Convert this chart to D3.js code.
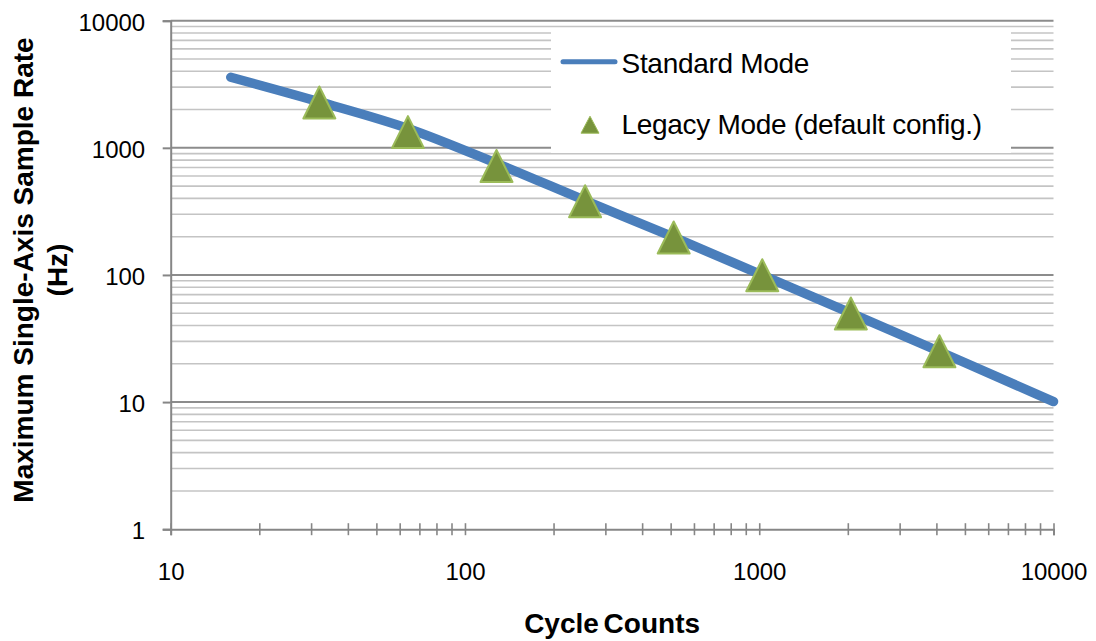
<!DOCTYPE html>
<html>
<head>
<meta charset="utf-8">
<script src="https://cdn.jsdelivr.net/npm/d3@7"></script>
<style>
  body { margin: 0; background: #fff; }
  svg text { font-family: "Liberation Sans", Arial, sans-serif; fill: #000; }
</style>
</head>
<body>
<svg id="chart" width="1096" height="641"></svg>
<script>

// values
var stdCycles = [16, 32, 64, 128, 256, 512, 1024, 2048, 4096, 10000]
var stdRate = [3590, 2300, 1420, 755, 385, 198, 99.5, 50, 25, 10.1]
var legacyCycles = [32, 64, 128, 256, 512, 1024, 2048, 4096]
var legacyRate = [2275, 1330, 720, 380, 197, 99.5, 49.8, 25.1]
var xTicks = [10, 100, 1000, 10000]
var yTicks = [1, 10, 100, 1000, 10000]
var seriesNames = ['Standard Mode', 'Legacy Mode (default config.)']
var xTitle = 'Cycle Counts'
var yTitle = ['Maximum Single-Axis Sample Rate', '(Hz)']

// plot area edges ("top" is taken by window.top)
var plotLeft = 170.7, plotRight = 1053.5, plotTop = 20.7, plotBottom = 529.2

var svg = d3.select('#chart')

var x = d3.scaleLog().domain([10, 10000]).range([plotLeft, plotRight])
var y = d3.scaleLog().domain([1, 10000]).range([plotBottom, plotTop])

function isMajor(v){
    return Math.abs(Math.log10(v) - Math.round(Math.log10(v))) < 1e-9
}

// horizontal gridlines, minor first then major
var gridVals = y.ticks().filter(function(v){ return v > 1 })
svg.append('g').selectAll('line')
    .data(gridVals.filter(function(v){ return !isMajor(v) }))
    .enter().append('line')
    .attr('x1', plotLeft).attr('x2', plotRight)
    .attr('y1', function(d){ return y(d) }).attr('y2', function(d){ return y(d) })
    .attr('stroke', '#c4c4c4').attr('stroke-width', 1.6)
svg.append('g').selectAll('line')
    .data(gridVals.filter(isMajor))
    .enter().append('line')
    .attr('x1', plotLeft).attr('x2', plotRight)
    .attr('y1', function(d){ return y(d) }).attr('y2', function(d){ return y(d) })
    .attr('stroke', '#8c8c8c').attr('stroke-width', 2)

// x axis, ticks cross the axis line
var gx = svg.append('g')
    .attr('transform', 'translate(0,' + plotBottom + ')')
    .call(d3.axisBottom(x)
        .tickValues(x.ticks())
        .tickSizeOuter(0)
        .tickSize(6)
        .tickFormat(function(d){ return xTicks.indexOf(d) >= 0 ? d3.format('d')(d) : '' }))
gx.select('.domain').attr('stroke', '#868686').attr('stroke-width', 2)
gx.selectAll('.tick line').attr('y1', -6).attr('y2', 6)
    .attr('stroke', '#868686').attr('stroke-width', 1.6)
gx.selectAll('.tick text')
    .attr('y', 50.8).attr('dy', null)
    .style('font-size', '24px')

// y axis
var gy = svg.append('g')
    .attr('transform', 'translate(' + plotLeft + ',0)')
    .call(d3.axisLeft(y)
        .tickValues(yTicks)
        .tickSizeOuter(0)
        .tickSize(8)
        .tickPadding(17.5)
        .tickFormat(d3.format('d')))
gy.select('.domain').attr('stroke', '#868686').attr('stroke-width', 2)
gy.selectAll('.tick line').attr('stroke', '#868686').attr('stroke-width', 2)
gy.selectAll('.tick text').attr('dy', '0.4em').style('font-size', '24px')

// series
var stdData = stdCycles.map(function(c, i){ return {c: c, v: stdRate[i]} })
var legData = legacyCycles.map(function(c, i){ return {c: c, v: legacyRate[i]} })

var line = d3.line()
    .x(function(d){ return x(d.c) })
    .y(function(d){ return y(d.v) })
    .curve(d3.curveMonotoneX)

svg.append('path')
    .datum(stdData)
    .attr('d', line)
    .attr('fill', 'none')
    .attr('stroke', '#4a7ebb')
    .attr('stroke-width', 9.5)
    .attr('stroke-linecap', 'round')
    .attr('stroke-linejoin', 'round')

function triangle(w, h){
    return 'M0,' + (-h/2) + 'L' + (w/2) + ',' + (h/2) + 'L' + (-w/2) + ',' + (h/2) + 'Z'
}

svg.append('g').selectAll('path')
    .data(legData)
    .enter().append('path')
    .attr('transform', function(d){ return 'translate(' + x(d.c) + ',' + y(d.v) + ')' })
    .attr('d', triangle(32, 32))
    .attr('fill', '#77933c')
    .attr('stroke', '#9bbb59')
    .attr('stroke-width', 2)
    .attr('stroke-linejoin', 'round')

// legend
var lg = svg.append('g')
lg.append('rect')
    .attr('x', 551).attr('y', 28.5)
    .attr('width', 460).attr('height', 124.5)
    .attr('fill', '#fff')
lg.append('line')
    .attr('x1', 563).attr('x2', 615)
    .attr('y1', 61.7).attr('y2', 61.7)
    .attr('stroke', '#4a7ebb').attr('stroke-width', 5)
    .attr('stroke-linecap', 'round')
lg.append('path')
    .attr('transform', 'translate(590,124.7)')
    .attr('d', triangle(18, 17))
    .attr('fill', '#77933c')
    .attr('stroke', '#9bbb59')
    .attr('stroke-width', 1)
lg.selectAll('text')
    .data(seriesNames)
    .enter().append('text')
    .attr('x', 621.5)
    .attr('y', function(d, i){ return i === 0 ? 72.5 : 134 })
    .style('font-size', '28px')
    .style('letter-spacing', '-0.3px')
    .text(function(d){ return d })

// axis titles
svg.append('text')
    .attr('x', (plotLeft + plotRight) / 2)
    .attr('y', 632.5)
    .attr('text-anchor', 'middle')
    .style('font-size', '28px')
    .style('font-weight', 'bold')
    .style('word-spacing', '-3px')
    .text(xTitle)

var yt = svg.append('text')
    .attr('transform', 'translate(0,270) rotate(-90)')
    .attr('text-anchor', 'middle')
    .style('font-size', '28px')
    .style('font-weight', 'bold')
yt.selectAll('tspan')
    .data(yTitle)
    .enter().append('tspan')
    .attr('x', 0)
    .attr('y', function(d, i){ return i === 0 ? 33 : 67 })
    .text(function(d){ return d })

</script>
</body>
</html>
